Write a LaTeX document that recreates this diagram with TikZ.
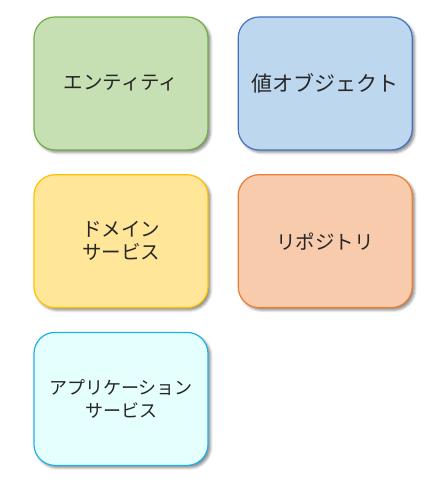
\documentclass[tikz,border=0pt]{standalone}
\usepackage{fontspec}
\setmainfont{Noto Sans CJK JP}
\usepackage{tikz}
\usetikzlibrary{positioning, shadows.blur}

\definecolor{entfill}{HTML}{C6E0B4}
\definecolor{entdraw}{HTML}{70AD47}
\definecolor{vofill}{HTML}{BDD7EE}
\definecolor{vodraw}{HTML}{4472C4}
\definecolor{dsfill}{HTML}{FFE699}
\definecolor{dsdraw}{HTML}{FFC000}
\definecolor{repofill}{HTML}{F8CBAD}
\definecolor{repodraw}{HTML}{ED7D31}
\definecolor{asfill}{HTML}{E5FFFF}
\definecolor{asdraw}{HTML}{1CB0E8}
\definecolor{txt}{HTML}{262626}

\tikzset{
    box/.style={draw, line width=1.2pt, rounded corners=21pt,
        minimum width=174pt, minimum height=133pt, align=center,
        text=txt, font=\fontsize{19.5}{23}\selectfont,
        blur shadow={shadow xshift=2.5pt, shadow yshift=-2.5pt,
            shadow blur radius=2.5pt, shadow opacity=45}}
}

\begin{document}
\begin{tikzpicture}[x=1pt, y=-1pt, node distance=23.5pt and 29pt]
        \useasboundingbox (0,0) rectangle (446,484);

        \node[box, fill=entfill, draw=entdraw] (entity) at (121,83.5) {エンティティ};
        \node[box, fill=vofill, draw=vodraw, right=of entity, font=\fontsize{21}{24}\selectfont] (valueobj) {値オブジェクト};

        \node[box, fill=dsfill, draw=dsdraw, below=of entity] (domainsvc) {ドメイン\\サービス};
        \node[box, fill=repofill, draw=repodraw, below=of valueobj] (repository) {リポジトリ};

        \node[box, fill=asfill, draw=asdraw, below=of domainsvc, font=\fontsize{18}{23}\selectfont] (appsvc) {アプリケーション\\サービス};
    \end{tikzpicture}
\end{document}
